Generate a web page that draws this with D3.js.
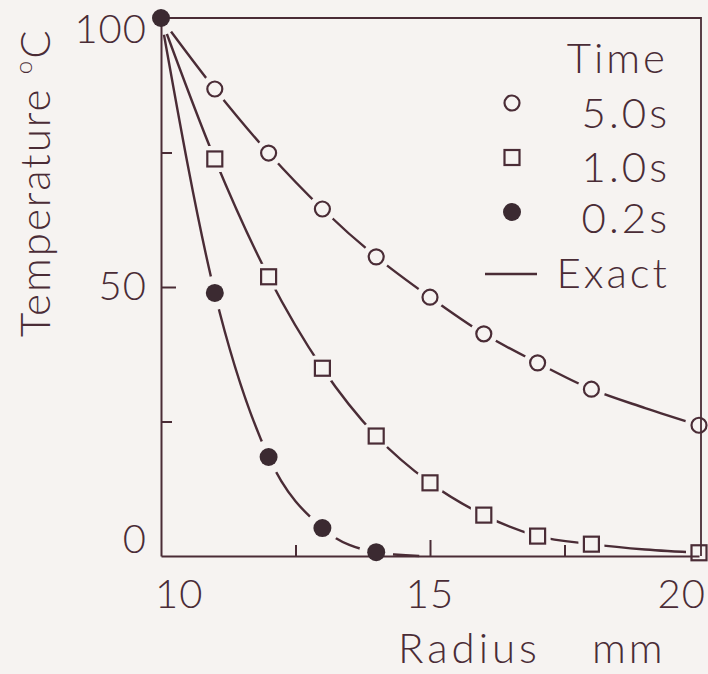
<!DOCTYPE html>
<html>
<head>
<meta charset="utf-8">
<script src="https://cdn.jsdelivr.net/npm/d3@7"></script>
<style>
  html, body { margin: 0; padding: 0; background: #f6f3f1; }
  svg text { font-family: Lato, "DejaVu Sans", sans-serif; font-weight: 300; fill: #4a2c36; }
</style>
</head>
<body>
<svg id="chart" width="708" height="674"></svg>
<script>
// values
var markerRadius = [11, 12, 13, 14, 15, 16, 17, 18, 20];
var temp5s = [86.8, 74.9, 64.5, 55.6, 48.1, 41.3, 35.9, 31.0, 24.3];
var temp1s = [73.8, 51.9, 34.9, 22.3, 13.6, 7.6, 3.7, 2.2, 0.6];
var radius02 = [10, 11, 12, 13, 14];
var temp02s = [100, 48.9, 18.4, 5.2, 0.7];

// exact solution curves
var exactRadius = [10, 11, 12, 13, 14, 15, 16, 17, 18, 19, 20];
var exact5s = [100, 86.8, 74.9, 64.5, 55.6, 48.1, 41.3, 35.9, 31.0, 27.5, 24.3];
var exact1s = [100, 73.8, 51.9, 34.9, 22.3, 13.6, 7.6, 3.7, 2.2, 1.2, 0.6];
var exact02Radius = [10, 11, 12, 13, 14, 14.8];
var exact02s = [100, 48.9, 18.4, 5.2, 0.7, 0];

var xTicks = [10, 15, 20];
var xMinor = [12.5, 17.5];
var yTicks = [0, 50, 100];
var yMinor = [25, 75];

var legendLabels = ["5.0s", "1.0s", "0.2s", "Exact"];

var ink = "#4a2c36";
var bg = "#f6f3f1";

var svg = d3.select("#chart");

var x = d3.scaleLinear().domain([10, 20]).range([161, 699]);
var y = d3.scaleLinear().domain([0, 100]).range([556, 18]);

var line = d3.line()
    .x(d => x(d[0]))
    .y(d => y(d[1]))
    .curve(d3.curveMonotoneX);

var exactSets = [
    d3.zip(exactRadius, exact5s),
    d3.zip(exactRadius, exact1s),
    d3.zip(exact02Radius, exact02s)
];

var curves = svg.append("g");
curves.selectAll("path")
    .data(exactSets)
    .enter().append("path")
    .attr("d", line)
    .attr("fill", "none")
    .attr("stroke", ink)
    .attr("stroke-width", 2.4);

var pts5 = d3.zip(markerRadius, temp5s);
var pts1 = d3.zip(markerRadius, temp1s);
var pts02 = d3.zip(radius02, temp02s);

// gaps in the curves around each marker
var halos = svg.append("g").attr("fill", bg).attr("stroke", "none");
halos.selectAll("circle.h5").data(pts5).enter().append("circle")
    .attr("class", "h5")
    .attr("cx", d => x(d[0])).attr("cy", d => y(d[1])).attr("r", 14);
halos.selectAll("rect.h1").data(pts1).enter().append("rect")
    .attr("class", "h1")
    .attr("x", d => x(d[0]) - 13).attr("y", d => y(d[1]) - 13)
    .attr("width", 26).attr("height", 26).attr("rx", 7);
halos.selectAll("circle.h02").data(pts02).enter().append("circle")
    .attr("class", "h02")
    .attr("cx", d => x(d[0])).attr("cy", d => y(d[1])).attr("r", 17);

// axes
function axisStyle(g) {
    g.selectAll("path, line").attr("stroke", ink).attr("stroke-width", 2);
    g.selectAll("text").remove();
}

svg.append("g")
    .attr("transform", "translate(0," + y(0) + ")")
    .call(d3.axisBottom(x).tickValues([15]).tickSizeInner(-16).tickSizeOuter(0))
    .call(axisStyle);
svg.append("g")
    .attr("transform", "translate(0," + y(0) + ")")
    .call(d3.axisBottom(x).tickValues(xMinor).tickSizeInner(-11).tickSizeOuter(0))
    .call(g => g.select(".domain").remove())
    .call(axisStyle);
svg.append("g")
    .attr("transform", "translate(" + x(10) + ",0)")
    .call(d3.axisLeft(y).tickValues([50]).tickSizeInner(-15).tickSizeOuter(0))
    .call(axisStyle);
svg.append("g")
    .attr("transform", "translate(" + x(10) + ",0)")
    .call(d3.axisLeft(y).tickValues(yMinor).tickSizeInner(-11).tickSizeOuter(0))
    .call(g => g.select(".domain").remove())
    .call(axisStyle);

// frame top and right
svg.append("path")
    .attr("d", "M" + x(10) + "," + y(100) + "H" + (x(20) + 2) + "V" + y(0))
    .attr("fill", "none")
    .attr("stroke", ink)
    .attr("stroke-width", 1.8);

// markers
svg.selectAll(".m5").data(pts5).enter().append("circle")
    .attr("cx", d => x(d[0])).attr("cy", d => y(d[1])).attr("r", 7.5)
    .attr("fill", "none").attr("stroke", ink).attr("stroke-width", 2.2);
svg.selectAll(".m1").data(pts1).enter().append("rect")
    .attr("x", d => x(d[0]) - 7.5).attr("y", d => y(d[1]) - 7.5)
    .attr("width", 15).attr("height", 15)
    .attr("fill", "none").attr("stroke", ink).attr("stroke-width", 2.2);
svg.selectAll(".m02").data(pts02).enter().append("circle")
    .attr("cx", d => x(d[0])).attr("cy", d => y(d[1])).attr("r", 9)
    .attr("fill", "#3b2a31");

// tick labels
var fs = 40;
svg.selectAll(".xl").data(xTicks).enter().append("text")
    .attr("x", d => x(d) + (d === 10 ? -6 : d === 20 ? 7 : 0))
    .attr("y", 608)
    .attr("text-anchor", d => d === 10 ? "start" : d === 20 ? "end" : "middle")
    .style("font-size", fs + "px")
    .style("letter-spacing", "1px")
    .text(d => d);

svg.selectAll(".yl").data(yTicks).enter().append("text")
    .attr("x", x(10) - 14)
    .attr("y", d => y(d) + (d === 100 ? 25 : d === 0 ? -3 : 13))
    .attr("text-anchor", "end")
    .style("font-size", fs + "px")
    .style("letter-spacing", "1px")
    .text(d => d);

// axis titles
svg.append("text")
    .attr("x", 398)
    .attr("y", 663)
    .style("font-size", "42px")
    .style("letter-spacing", "4px")
    .text("Radius");
svg.append("text")
    .attr("x", 592)
    .attr("y", 663)
    .style("font-size", "42px")
    .style("letter-spacing", "3px")
    .text("mm");

var yTitle = svg.append("text")
    .attr("transform", "translate(50,337) rotate(-90)")
    .style("font-size", "42px")
    .style("letter-spacing", "2px");
yTitle.append("tspan").text("Temperature ");
yTitle.append("tspan").attr("dy", -18).style("font-size", "24px").text("o");
yTitle.append("tspan").attr("dy", 18).text("C");

// legend
var legendX = 668;
var legendY = [73, 128, 182, 233, 288];
svg.append("text")
    .attr("x", legendX).attr("y", legendY[0])
    .attr("text-anchor", "end")
    .style("font-size", "42px").style("letter-spacing", "3px")
    .text("Time");
svg.selectAll(".lg").data(legendLabels).enter().append("text")
    .attr("x", legendX + 2).attr("y", (d, i) => legendY[i + 1])
    .attr("text-anchor", "end")
    .style("font-size", "42px").style("letter-spacing", "3px")
    .text(d => d);

var symX = 512;
svg.append("circle").attr("cx", symX).attr("cy", legendY[1] - 25).attr("r", 7.5)
    .attr("fill", "none").attr("stroke", ink).attr("stroke-width", 2.2);
svg.append("rect").attr("x", symX - 7.5).attr("y", legendY[2] - 32).attr("width", 15).attr("height", 15)
    .attr("fill", "none").attr("stroke", ink).attr("stroke-width", 2.2);
svg.append("circle").attr("cx", symX).attr("cy", legendY[3] - 21).attr("r", 9)
    .attr("fill", "#3b2a31");
svg.append("line").attr("x1", 485).attr("x2", 537)
    .attr("y1", legendY[4] - 14).attr("y2", legendY[4] - 14)
    .attr("stroke", ink).attr("stroke-width", 2.4);
</script>
</body>
</html>
